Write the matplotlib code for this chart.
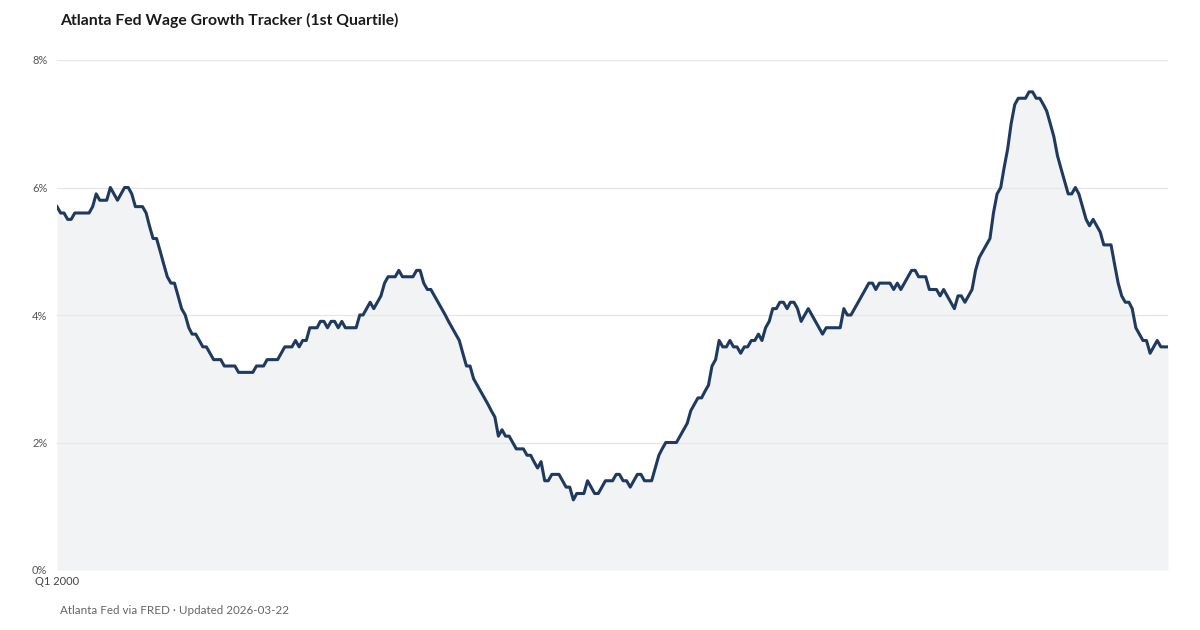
import numpy as np
import pandas as pd
import matplotlib
matplotlib.use("Agg")
import matplotlib.pyplot as plt

plt.rcParams['font.family'] = ['Lato', 'DejaVu Sans']

# monthly values (%), Jan 2000 onwards
wage_2000_2007 = [
    5.7, 5.6, 5.6, 5.5, 5.5, 5.6, 5.6, 5.6, 5.6, 5.6, 5.7, 5.9,
    5.8, 5.8, 5.8, 6.0, 5.9, 5.8, 5.9, 6.0, 6.0, 5.9, 5.7, 5.7,
    5.7, 5.6, 5.4, 5.2, 5.2, 5.0, 4.8, 4.6, 4.5, 4.5, 4.3, 4.1,
    4.0, 3.8, 3.7, 3.7, 3.6, 3.5, 3.5, 3.4, 3.3, 3.3, 3.3, 3.2,
    3.2, 3.2, 3.2, 3.1, 3.1, 3.1, 3.1, 3.1, 3.2, 3.2, 3.2, 3.3,
    3.3, 3.3, 3.3, 3.4, 3.5, 3.5, 3.5, 3.6, 3.5, 3.6, 3.6, 3.8,
    3.8, 3.8, 3.9, 3.9, 3.8, 3.9, 3.9, 3.8, 3.9, 3.8, 3.8, 3.8,
    3.8, 4.0, 4.0, 4.1, 4.2, 4.1, 4.2, 4.3, 4.5, 4.6, 4.6, 4.6,
]
wage_2008_2015 = [
    4.7, 4.6, 4.6, 4.6, 4.6, 4.7, 4.7, 4.5, 4.4, 4.4, 4.3, 4.2,
    4.1, 4.0, 3.9, 3.8, 3.7, 3.6, 3.4, 3.2, 3.2, 3.0, 2.9, 2.8,
    2.7, 2.6, 2.5, 2.4, 2.1, 2.2, 2.1, 2.1, 2.0, 1.9, 1.9, 1.9,
    1.8, 1.8, 1.7, 1.6, 1.7, 1.4, 1.4, 1.5, 1.5, 1.5, 1.4, 1.3,
    1.3, 1.1, 1.2, 1.2, 1.2, 1.4, 1.3, 1.2, 1.2, 1.3, 1.4, 1.4,
    1.4, 1.5, 1.5, 1.4, 1.4, 1.3, 1.4, 1.5, 1.5, 1.4, 1.4, 1.4,
    1.6, 1.8, 1.9, 2.0, 2.0, 2.0, 2.0, 2.1, 2.2, 2.3, 2.5, 2.6,
    2.7, 2.7, 2.8, 2.9, 3.2, 3.3, 3.6, 3.5, 3.5, 3.6, 3.5, 3.5,
]
wage_2016_2026 = [
    3.4, 3.5, 3.5, 3.6, 3.6, 3.7, 3.6, 3.8, 3.9, 4.1, 4.1, 4.2,
    4.2, 4.1, 4.2, 4.2, 4.1, 3.9, 4.0, 4.1, 4.0, 3.9, 3.8, 3.7,
    3.8, 3.8, 3.8, 3.8, 3.8, 4.1, 4.0, 4.0, 4.1, 4.2, 4.3, 4.4,
    4.5, 4.5, 4.4, 4.5, 4.5, 4.5, 4.5, 4.4, 4.5, 4.4, 4.5, 4.6,
    4.7, 4.7, 4.6, 4.6, 4.6, 4.4, 4.4, 4.4, 4.3, 4.4, 4.3, 4.2,
    4.1, 4.3, 4.3, 4.2, 4.3, 4.4, 4.7, 4.9, 5.0, 5.1, 5.2, 5.6,
    5.9, 6.0, 6.3, 6.6, 7.0, 7.3, 7.4, 7.4, 7.4, 7.5, 7.5, 7.4,
    7.4, 7.3, 7.2, 7.0, 6.8, 6.5, 6.3, 6.1, 5.9, 5.9, 6.0, 5.9,
    5.7, 5.5, 5.4, 5.5, 5.4, 5.3, 5.1, 5.1, 5.1, 4.8, 4.5, 4.3,
    4.2, 4.2, 4.1, 3.8, 3.7, 3.6, 3.6, 3.4, 3.5, 3.6, 3.5, 3.5,
    3.5,
]
y_ticks = [0, 2, 4, 6, 8]
y_labels = ['0%', '2%', '4%', '6%', '8%']
x_label = 'Q1 2000'

values = np.array(wage_2000_2007 + wage_2008_2015 + wage_2016_2026)
dates = pd.date_range('2000-01-01', periods=len(values), freq='MS')

fig = plt.figure(figsize=(12, 6.3), dpi=100)
ax = fig.add_axes([57 / 1200, 60 / 630, 1111 / 1200, 510 / 630])

line_color = '#1f3a5f'
ax.fill_between(dates, 0, values, color='#f1f3f5', linewidth=0, zorder=1)
ax.plot(dates, values, color=line_color, linewidth=2.2, zorder=3,
        solid_joinstyle='round')

ax.set_xlim(dates[0], dates[-1])
ax.set_ylim(0, 8)
ax.set_yticks(y_ticks)
ax.set_yticklabels(y_labels)
ax.set_xticks([dates[0]])
ax.set_xticklabels([x_label])
ax.set_axisbelow(False)
ax.grid(axis='y', color='#e6e6e6', linewidth=0.9)
for s in ax.spines.values():
    s.set_visible(False)
ax.tick_params(axis='both', length=0, labelsize=8, labelcolor='#555555')
ax.tick_params(axis='y', pad=7)
ax.tick_params(axis='x', pad=4, labelcolor='#444444')

fig.text(60 / 1200, 1 - 20 / 630, 'Atlanta Fed Wage Growth Tracker (1st Quartile)',
         fontsize=11.3, fontweight='bold', color='#1a1a1a', va='center', ha='left')
fig.text(60 / 1200, 1 - 610 / 630, 'Atlanta Fed via FRED · Updated 2026-03-22',
         fontsize=8.4, color='#666666', va='center', ha='left')

fig.savefig('out.png', dpi=100)
